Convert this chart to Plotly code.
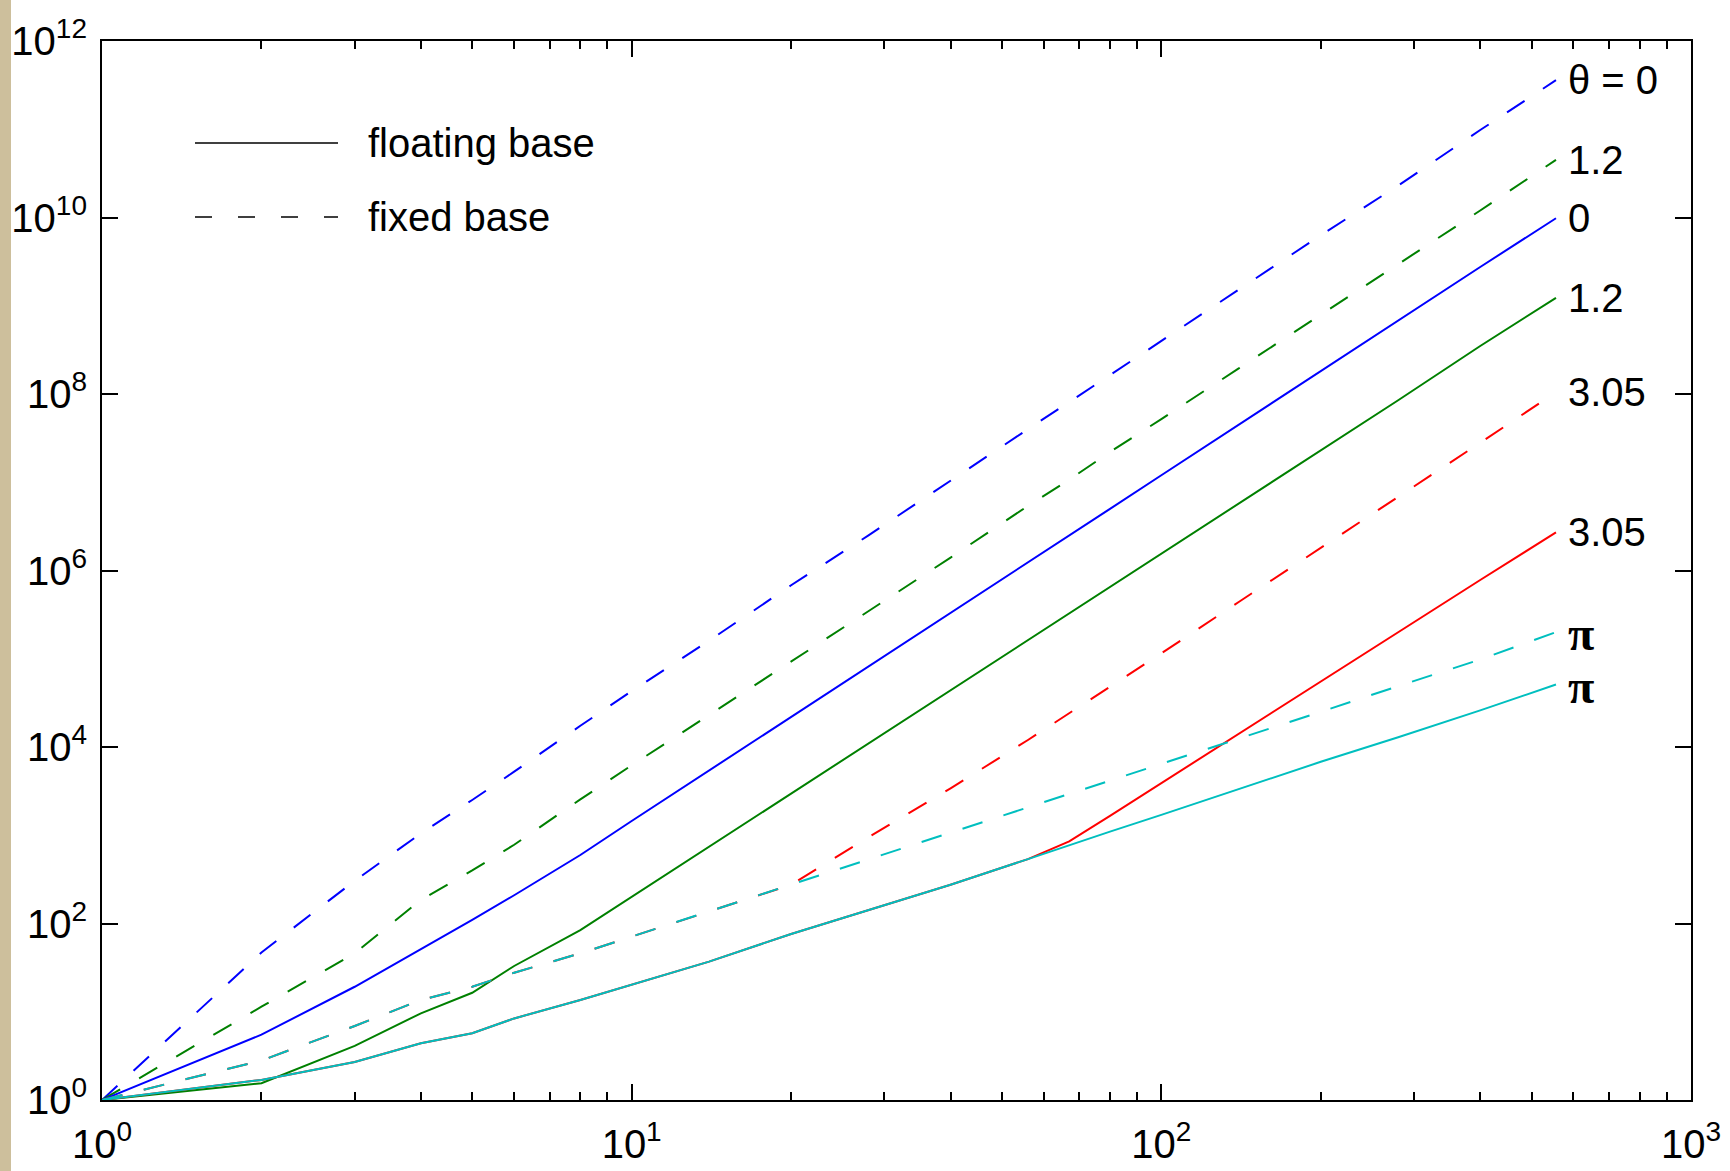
import numpy as np
import plotly.graph_objects as go

# ---------------- data ----------------
n_vals = [1, 2, 3, 4, 5, 6, 8, 10, 14, 20, 28, 40, 56, 67, 80, 100, 140, 200, 280, 400, 556]

# fixed base (dashed)
fixed_theta0 = [1, 47, 305, 1050, 2510, 5250, 1.74e4, 4.3e4, 1.6e5, 6.8e5, 2.5e6, 1.05e7,
                4.0e7, 8.1e7, 1.64e8, 4.0e8, 1.5e9, 6.3e9, 2.3e10, 9.8e10, 3.6e11]
fixed_theta12 = [1, 11.4, 46, 185, 400, 780, 2550, 6200, 2.3e4, 9.3e4, 3.5e5, 1.4e6,
                 5.4e6, 1.07e7, 2.2e7, 5.2e7, 1.95e8, 7.9e8, 3.0e9, 1.2e10, 4.5e10]
fixed_theta305 = [1, 2.8, 6.9, 13.6, 19.2, 27.7, 45.9, 71, 138, 275, 950, 3400,
                  1.2e4, 2.4e4, 4.8e4, 1.15e5, 4.4e5, 1.8e6, 6.9e6, 2.8e7, 1.05e8]
fixed_thetapi = [1, 2.8, 6.9, 13.6, 19.2, 27.7, 45.9, 71, 138, 275, 537, 1070,
                 2040, 2950, 4170, 6460, 1.23e4, 2.5e4, 4.9e4, 9.8e4, 2.0e5]

# floating base (solid)
float_theta0 = [1, 5.5, 19.2, 51, 110, 209, 597, 1450, 5400, 2.2e4, 8.1e4, 3.3e5,
                1.23e6, 2.45e6, 5.0e6, 1.2e7, 4.5e7, 1.8e8, 6.8e8, 2.75e9, 9.8e9]
float_theta12 = [1, 1.55, 4.1, 9.6, 16.4, 33, 84, 200, 740, 2950, 1.1e4, 4.4e4,
                 1.63e5, 3.3e5, 6.6e5, 1.55e6, 5.8e6, 2.3e7, 8.5e7, 3.5e8, 1.23e9]
float_theta305 = [1, 1.69, 2.7, 4.4, 5.7, 8.4, 13.6, 20.4, 37, 76, 141, 275,
                  537, 851, 1660, 3900, 1.41e4, 5.5e4, 2.0e5, 7.8e5, 2.7e6]
float_thetapi = [1, 1.69, 2.7, 4.4, 5.7, 8.4, 13.6, 20.4, 37, 76, 141, 275,
                 537, 776, 1100, 1700, 3300, 6800, 1.29e4, 2.6e4, 5.1e4]

x_tickvals = [1, 10, 100, 1000]
x_ticktext = ["10<sup>0</sup>", "10<sup>1</sup>", "10<sup>2</sup>", "10<sup>3</sup>"]
y_tickvals = [1, 1e2, 1e4, 1e6, 1e8, 1e10, 1e12]
y_ticktext = ["10<sup>0</sup>", "10<sup>2</sup>", "10<sup>4</sup>", "10<sup>6</sup>",
              "10<sup>8</sup>", "10<sup>10</sup>", "10<sup>12</sup>"]
x_minor = [m * d for d in (1, 10, 100) for m in range(2, 10)]

BLUE, GREEN, RED, CYAN = "#0000FF", "#008000", "#FF0000", "#00BFBF"
DASH = "21px,22px"
FONT = "Liberation Sans, Arial, sans-serif"
SERIF = "Liberation Serif, Times New Roman, serif"

# (values, color, dashed, label, label font, size, yshift)
series = [
    (fixed_theta0, BLUE, True, "θ = 0", FONT, 40, 0),
    (fixed_theta12, GREEN, True, "1.2", FONT, 40, 0),
    (float_theta0, BLUE, False, "0", FONT, 40, 0),
    (float_theta12, GREEN, False, "1.2", FONT, 40, 0),
    (fixed_theta305, RED, True, "3.05", FONT, 40, 0),
    (float_theta305, RED, False, "3.05", FONT, 40, 0),
    (fixed_thetapi, CYAN, True, "<b>π</b>", SERIF, 48, -1),
    (float_thetapi, CYAN, False, "<b>π</b>", SERIF, 48, -2),
]

fig = go.Figure()
for vals, color, dashed, label, lf, ls, ys in series:
    fig.add_trace(go.Scatter(
        x=n_vals, y=vals, mode="lines",
        line=dict(color=color, width=2, dash=DASH if dashed else "solid"),
        showlegend=False, hoverinfo="skip"))

annotations = []
for vals, color, dashed, label, lf, ls, ys in series:
    annotations.append(dict(
        x=np.log10(n_vals[-1]), y=np.log10(vals[-1]), xref="x", yref="y",
        text=label, showarrow=False, xanchor="left", yanchor="middle",
        xshift=10, yshift=ys, font=dict(family=lf, size=ls, color="black")))

# legend (drawn manually)
PW, PH = 1589.0, 1059.0
leg_x0, leg_x1 = (195 - 102) / PW, (338 - 102) / PW
leg_y_solid, leg_y_dash = (1100 - 143) / PH, (1100 - 217) / PH
shapes = [
    dict(type="rect", xref="paper", yref="paper", x0=-102 / PW, x1=(11 - 102) / PW,
         y0=-71 / PH, y1=1 + 41 / PH, fillcolor="#CDBF9C", line=dict(width=0), layer="below"),
    dict(type="line", xref="paper", yref="paper", x0=leg_x0, x1=leg_x1,
         y0=leg_y_solid, y1=leg_y_solid, line=dict(color="black", width=1.5)),
    dict(type="line", xref="paper", yref="paper", x0=leg_x0, x1=leg_x1,
         y0=leg_y_dash, y1=leg_y_dash, line=dict(color="black", width=1.5, dash="17px,26px")),
]
for txt, yy in (("floating base", leg_y_solid), ("fixed base", leg_y_dash)):
    annotations.append(dict(x=(366 - 102) / PW, y=yy, xref="paper", yref="paper",
                            text=txt, showarrow=False, xanchor="left", yanchor="middle",
                            font=dict(family=FONT, size=40, color="black")))

axis_common = dict(
    type="log", showline=True, linecolor="black", linewidth=2, mirror="ticks",
    ticks="inside", ticklen=16, tickwidth=1.5, tickcolor="black", automargin=False,
    showgrid=False, zeroline=False, tickfont=dict(family=FONT, size=40, color="black"),
)

fig.update_xaxes(range=[0, 3], tickmode="array", tickvals=x_tickvals, ticktext=x_ticktext,
                 ticklabelstandoff=8,
                 minor=dict(tickmode="array", tickvals=x_minor, ticks="inside", ticklen=8,
                            tickwidth=1.5, tickcolor="black", showgrid=False),
                 **axis_common)
fig.update_yaxes(range=[0, 12], tickmode="array", tickvals=y_tickvals, ticktext=y_ticktext,
                 ticklabelstandoff=5, **axis_common)

fig.update_layout(
    width=1730, height=1171,
    margin=dict(l=102, r=39, t=41, b=71, autoexpand=False),
    plot_bgcolor="white", paper_bgcolor="white",
    font=dict(family=FONT, size=40, color="black"),
    shapes=shapes, annotations=annotations, showlegend=False,
)

fig.write_html("out.html", config={"displayModeBar": False},
               post_script="document.body.style.margin='0px';document.body.style.overflow='hidden';")
